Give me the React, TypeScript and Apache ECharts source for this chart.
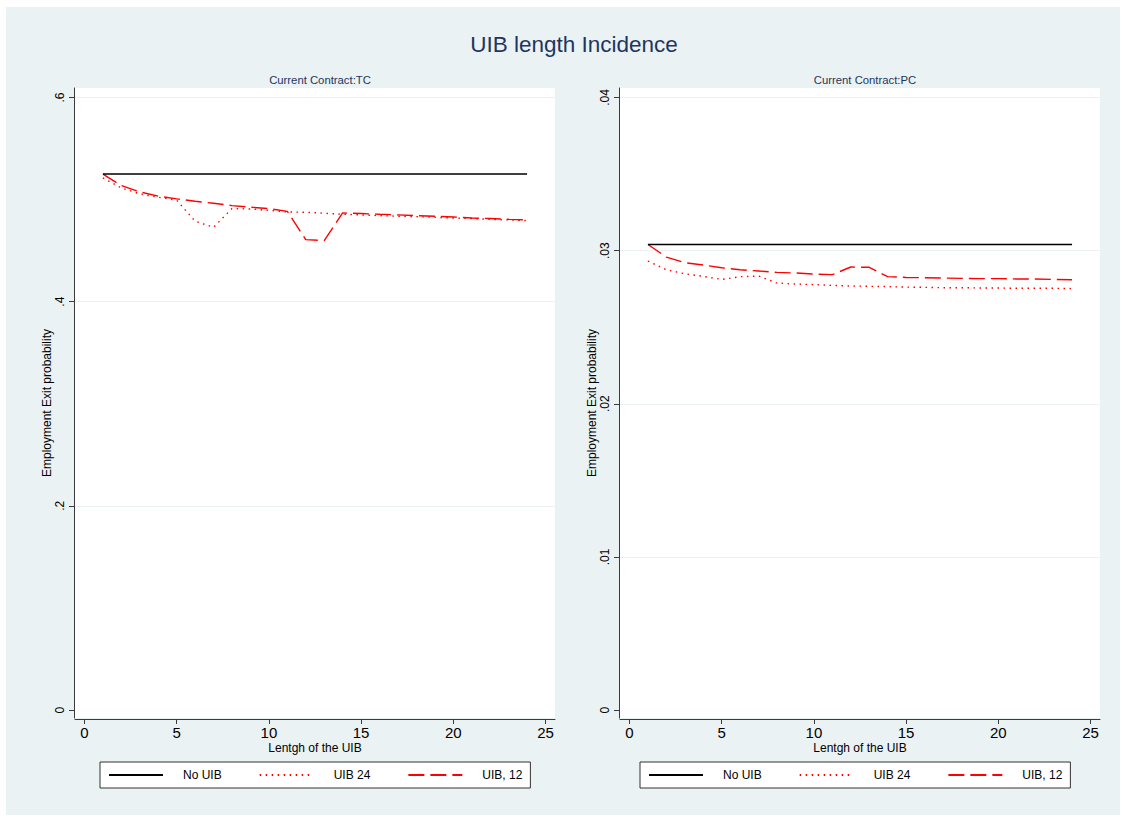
import React, { useEffect, useRef } from "react";
import * as echarts from "echarts";

const xValues = [1, 2, 3, 4, 5, 6, 7, 8, 9, 10, 11, 12, 13, 14, 15, 16, 17, 18, 19, 20, 21, 22, 23, 24];

const tcNoUIB = [0.525, 0.525, 0.525, 0.525, 0.525, 0.525, 0.525, 0.525, 0.525, 0.525, 0.525, 0.525, 0.525, 0.525, 0.525, 0.525, 0.525, 0.525, 0.525, 0.525, 0.525, 0.525, 0.525, 0.525];
const tcUIB24 = [0.5212, 0.5114, 0.5056, 0.5023, 0.4994, 0.4788, 0.4729, 0.4912, 0.4908, 0.4895, 0.4879, 0.4876, 0.4866, 0.4856, 0.485, 0.4843, 0.4837, 0.4833, 0.4827, 0.482, 0.4814, 0.4807, 0.4801, 0.4794];
const tcUIB12 = [0.525, 0.5137, 0.5075, 0.5033, 0.5007, 0.4984, 0.4964, 0.4941, 0.4925, 0.4912, 0.4885, 0.4608, 0.4598, 0.4869, 0.4863, 0.4856, 0.485, 0.4843, 0.4837, 0.483, 0.482, 0.4814, 0.4807, 0.4801];

const pcNoUIB = [0.0304, 0.0304, 0.0304, 0.0304, 0.0304, 0.0304, 0.0304, 0.0304, 0.0304, 0.0304, 0.0304, 0.0304, 0.0304, 0.0304, 0.0304, 0.0304, 0.0304, 0.0304, 0.0304, 0.0304, 0.0304, 0.0304, 0.0304, 0.0304];
const pcUIB24 = [0.02932, 0.02875, 0.02849, 0.02832, 0.02812, 0.0283, 0.02834, 0.02788, 0.02782, 0.02778, 0.02773, 0.02769, 0.02767, 0.02765, 0.02762, 0.0276, 0.02758, 0.02758, 0.02756, 0.02756, 0.02754, 0.02754, 0.02754, 0.02752];
const pcUIB12 = [0.0304, 0.02958, 0.02921, 0.02906, 0.02888, 0.02875, 0.02867, 0.02858, 0.02854, 0.02847, 0.02843, 0.02893, 0.02891, 0.0283, 0.02825, 0.02823, 0.02821, 0.02819, 0.02817, 0.02817, 0.02815, 0.02815, 0.02812, 0.0281];

const xTicks = [0, 5, 10, 15, 20, 25];
const tcTicks = [0, 0.2, 0.4, 0.6];
const pcTicks = [0, 0.01, 0.02, 0.03, 0.04];

const seriesNames = ["No UIB", "UIB 24", "UIB, 12"];
const titleText = "UIB length Incidence";
const panelTitles = ["Current Contract:TC", "Current Contract:PC"];
const xAxisTitle = "Lentgh of the UIB";
const yAxisTitle = "Employment Exit probability";

const FONT = "'Liberation Sans', Arial, sans-serif";
const BG = "#eaf2f3";
const AXIS = "#3a3a3a";

const fmt = (v: number) => (v === 0 ? "0" : String(v).replace(/^0/, ""));

export default function App() {
  const ref = useRef<HTMLDivElement>(null);
  useEffect(() => {
    if (!ref.current) return;
    const chart = echarts.init(ref.current, null, { renderer: "svg" });

    const panels = [
      { left: 75, ticks: tcTicks, min: -0.0078, max: 0.6093, data: [tcNoUIB, tcUIB24, tcUIB12] },
      { left: 620, ticks: pcTicks, min: -0.00052, max: 0.04062, data: [pcNoUIB, pcUIB24, pcUIB12] },
    ];

    const grids = panels.map((p) => ({
      left: p.left,
      top: 88,
      width: 480,
      height: 630,
      show: true,
      backgroundColor: "#ffffff",
      borderWidth: 0,
    }));

    const xAxes = panels.map((p, i) => ({
      type: "value",
      gridIndex: i,
      min: -0.515,
      max: 25.515,
      offset: 1,
      name: xAxisTitle,
      nameLocation: "middle",
      nameGap: 23,
      nameMoveOverlap: false,
      nameTextStyle: { fontFamily: FONT, fontSize: 12, color: "#000" },
      axisLine: { show: true, onZero: false, lineStyle: { color: AXIS, width: 1 } },
      axisTick: { show: true, length: 5, customValues: xTicks, lineStyle: { color: AXIS } },
      axisLabel: { customValues: xTicks, fontFamily: FONT, fontSize: 15, color: "#000", margin: 6 },
      splitLine: { show: false },
    }));

    const yAxes = panels.map((p, i) => ({
      type: "value",
      gridIndex: i,
      min: p.min,
      max: p.max,
      offset: 1,
      name: yAxisTitle,
      nameLocation: "middle",
      nameGap: 21,
      nameTextStyle: { fontFamily: FONT, fontSize: 12, color: "#000" },
      axisLine: { show: true, onZero: false, lineStyle: { color: AXIS, width: 1 } },
      axisTick: { show: true, length: 5, customValues: p.ticks, lineStyle: { color: AXIS } },
      axisLabel: {
        customValues: p.ticks,
        formatter: (v: number) => fmt(v),
        rotate: 90,
        fontFamily: FONT,
        fontSize: 12,
        color: "#000",
        margin: 8,
      },
      splitLine: { show: false },
    }));

    const styles = [
      { color: "#000000", width: 1.5, type: "solid" as any },
      { color: "#ff0000", width: 1.4, type: [1.5, 4.5] as any },
      { color: "#ff0000", width: 1.4, type: [16, 6] as any },
    ];

    const series: any[] = [];
    panels.forEach((p, pi) => {
      p.data.forEach((vals, si) => {
        const s: any = {
          type: "line",
          name: seriesNames[si],
          xAxisIndex: pi,
          yAxisIndex: pi,
          data: xValues.map((x, k) => [x, vals[k]]),
          symbol: "none",
          showSymbol: false,
          color: styles[si].color,
          lineStyle: { ...styles[si] },
          z: 3 + (2 - si),
        };
        if (si === 0) {
          s.markLine = {
            silent: true,
            symbol: ["none", "none"],
            label: { show: false },
            z: 1,
            lineStyle: { color: BG, width: 1, type: "solid" },
            data: p.ticks.filter((t) => t !== 0).map((t) => ({ yAxis: t })),
          };
        }
        series.push(s);
      });
    });

    const legends = panels.map((p, i) => ({
      data: seriesNames,
      left: i === 0 ? 100 : 640,
      top: 762,
      orient: "horizontal",
      itemWidth: 54,
      itemHeight: 12,
      itemGap: 37,
      padding: [7, 8, 7, 8],
      backgroundColor: "#ffffff",
      borderColor: "#333333",
      borderWidth: 1,
      borderRadius: 0,
      selectedMode: false,
      itemStyle: { opacity: 0, color: "rgba(0,0,0,0)", borderWidth: 0 },
      textStyle: { fontFamily: FONT, fontSize: 12, color: "#000", padding: [0, 0, 0, 15] },
    }));

    chart.setOption({
      animation: false,
      backgroundColor: "#ffffff",
      graphic: [
        {
          type: "rect",
          shape: { x: 6, y: 7, width: 1114, height: 808 },
          style: { fill: BG },
          z: -10,
          silent: true,
        },
      ],
      title: [
        {
          text: titleText,
          left: 569,
          textAlign: "center",
          top: 28,
          textStyle: { fontFamily: FONT, fontSize: 22.5, fontWeight: "normal", color: "#1f3561" },
        },
        {
          text: panelTitles[0],
          left: 315,
          textAlign: "center",
          top: 69,
          textStyle: { fontFamily: FONT, fontSize: 11.3, fontWeight: "normal", color: "#1f3561" },
        },
        {
          text: panelTitles[1],
          left: 860,
          textAlign: "center",
          top: 69,
          textStyle: { fontFamily: FONT, fontSize: 11.3, fontWeight: "normal", color: "#1f3561" },
        },
      ],
      grid: grids,
      xAxis: xAxes,
      yAxis: yAxes,
      legend: legends,
      series,
    } as any);
    return () => chart.dispose();
  }, []);
  return (
    <div
      ref={ref}
      style={{ position: "absolute", left: 0, top: 0, width: 1126, height: 821 }}
    />
  );
}
